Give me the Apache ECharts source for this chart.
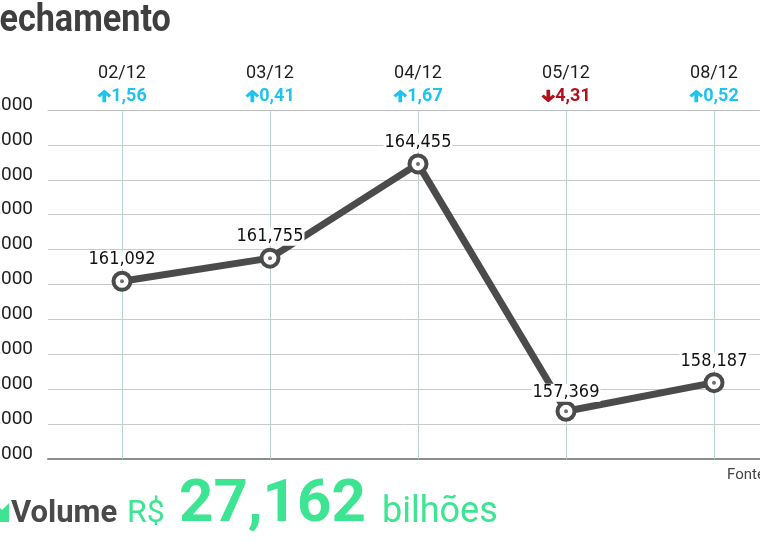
<!DOCTYPE html>
<html>
<head>
<meta charset="utf-8">
<script src="https://cdn.jsdelivr.net/npm/echarts@6/dist/echarts.min.js"></script>
<style>
html,body{margin:0;padding:0;background:#fff;}
#chart{width:760px;height:541px;}
</style>
</head>
<body>
<div id="chart"></div>
<script>
// ---- data ----
const categories = ['02/12', '03/12', '04/12', '05/12', '08/12'];
const closeValues = [161092, 161755, 164455, 157369, 158187];
const changeValues = [1.56, 0.41, 1.67, -4.31, 0.52];
const yMin = 156000;
const yMax = 166000;
const yStep = 1000;
const titleText = 'Fechamento';
const volumeLabel = 'Volume';
const volumeCurrency = 'R$';
const volumeValue = '27,162';
const volumeUnit = 'bilhões';
const sourceText = 'Fonte: B3';

// ---- styles ----
const DARK = '#4b4b4b';
const UP = '#1ec4f0';
const DOWN = '#b3101d';
const GREEN = '#3de592';

function arrowSvg(color, down) {
  const p = 'M6 0 L12 6.4 L9.9 8.5 L7.6 6.1 L7.6 14 L4.4 14 L4.4 6.1 L2.1 8.5 L0 6.4 Z';
  const tr = down ? ' transform="rotate(180 6 7)"' : '';
  const svg = '<svg xmlns="http://www.w3.org/2000/svg" width="12" height="14" viewBox="0 0 12 14"><path d="' + p + '" fill="' + color + '"' + tr + '/></svg>';
  return 'data:image/svg+xml;charset=utf-8,' + encodeURIComponent(svg);
}
const upImg = arrowSvg(UP, false);
const downImg = arrowSvg(DOWN, true);

function fmtThousands(v) {
  return String(v).replace(/(\d{3})$/, ',$1');
}
function fmtChange(v) {
  return Math.abs(v).toFixed(2).replace('.', ',');
}

const lineData = closeValues.map(function (v, i) {
  return i === 3 ? {value: v, label: {offset: [0, 3]}} : v;
});

const chart = echarts.init(document.getElementById('chart'), null, {renderer: 'canvas'});

const option = {
  animation: false,
  backgroundColor: '#ffffff',
  grid: {left: 48, top: 110, width: 740, height: 349, containLabel: false, outerBoundsMode: 'none'},
  xAxis: [
    {
      type: 'category',
      position: 'top',
      data: categories,
      boundaryGap: true,
      axisTick: {show: false},
      axisLine: {show: true, lineStyle: {color: '#bdbdbd', width: 1}},
      splitLine: {show: false},
      axisLabel: {
        margin: 3,
        interval: 0,
        formatter: function (value, idx) {
          const c = changeValues[idx];
          const dir = c >= 0 ? 'up' : 'dn';
          const txt = c >= 0 ? 'u' : 'd';
          return '{date|' + value + '}\n{' + dir + '|}{' + txt + '|' + fmtChange(c) + '}';
        },
        rich: {
          date: {fontFamily: 'Roboto', fontSize: 18, color: '#1e1e1e', lineHeight: 24},
          u: {fontFamily: 'Roboto', fontSize: 18, fontWeight: 'bold', color: UP, lineHeight: 22},
          d: {fontFamily: 'Roboto', fontSize: 18, fontWeight: 'bold', color: DOWN, lineHeight: 22},
          up: {width: 12, height: 13, padding: [0, 2, 0, 0], backgroundColor: {image: upImg}},
          dn: {width: 12, height: 13, padding: [0, 2, 0, 0], backgroundColor: {image: downImg}}
        }
      }
    },
    {
      type: 'category',
      position: 'bottom',
      data: categories,
      boundaryGap: true,
      axisTick: {show: false},
      axisLabel: {show: false},
      axisLine: {show: true, lineStyle: {color: '#8d8d8d', width: 2}},
      splitLine: {show: false}
    }
  ],
  yAxis: {
    type: 'value',
    min: yMin,
    max: yMax,
    interval: yStep,
    axisLine: {show: false},
    axisTick: {show: false},
    splitLine: {show: true, lineStyle: {color: '#c9c9c9', width: 1}},
    axisLabel: {
      margin: 15,
      fontFamily: 'Roboto',
      fontSize: 19,
      color: '#1e1e1e',
      verticalAlign: 'bottom',
      lineHeight: 10,
      formatter: function (v) { return fmtThousands(v); }
    }
  },
  series: [
    {
      type: 'line',
      xAxisIndex: 0,
      data: lineData,
      z: 3,
      symbol: 'circle',
      symbolSize: 17,
      lineStyle: {color: DARK, width: 7},
      itemStyle: {color: '#ffffff', borderColor: DARK, borderWidth: 4},
      label: {
        show: true,
        position: 'top',
        distance: 2,
        fontFamily: "'DejaVu Sans Condensed', Roboto",
        fontSize: 18,
        color: '#111111',
        backgroundColor: '#ffffff',
        padding: [0, 1, 0, 1],
        formatter: function (p) { return fmtThousands(p.value); }
      },
      emphasis: {disabled: true},
      markLine: {
        silent: true,
        z: 1,
        symbol: 'none',
        label: {show: false},
        lineStyle: {color: '#b6d4cd', width: 1, type: 'solid'},
        emphasis: {disabled: true},
        data: categories.map(function (c) { return {xAxis: c}; })
      }
    },
    {
      type: 'scatter',
      xAxisIndex: 0,
      data: closeValues,
      z: 4,
      symbol: 'circle',
      symbolSize: 4,
      itemStyle: {color: DARK},
      silent: true,
      emphasis: {disabled: true}
    }
  ],
  graphic: [
    {
      type: 'text', x: -19, y: 2, scaleX: 0.9,
      style: {text: titleText, font: 'bold 38px Roboto', fill: '#3f3f3f', verticalAlign: 'top'}
    },
    {
      type: 'polygon',
      shape: {points: [[-5, 503], [2, 510], [9, 503], [9, 522], [-10, 522], [-3, 515], [-10, 508]]},
      style: {fill: GREEN}
    },
    {
      type: 'text', x: 11, y: 498.5,
      style: {text: volumeLabel, font: 'bold 31px Roboto', fill: '#4a4a4a', verticalAlign: 'top'}
    },
    {
      type: 'text', x: 127, y: 497.7,
      style: {text: volumeCurrency, font: '32px Roboto', fill: GREEN, verticalAlign: 'top'}
    },
    {
      type: 'text', x: 179, y: 475.6,
      style: {text: volumeValue, font: 'bold 60px Roboto', fill: GREEN, verticalAlign: 'top'}
    },
    {
      type: 'text', x: 382, y: 494.6,
      style: {text: volumeUnit, font: '36px Roboto', fill: GREEN, verticalAlign: 'top'}
    },
    {
      type: 'text', x: 727, y: 468,
      style: {text: sourceText, font: '15px Roboto', fill: '#444444', verticalAlign: 'top'}
    }
  ]
};

chart.setOption(option);
</script>
</body>
</html>
